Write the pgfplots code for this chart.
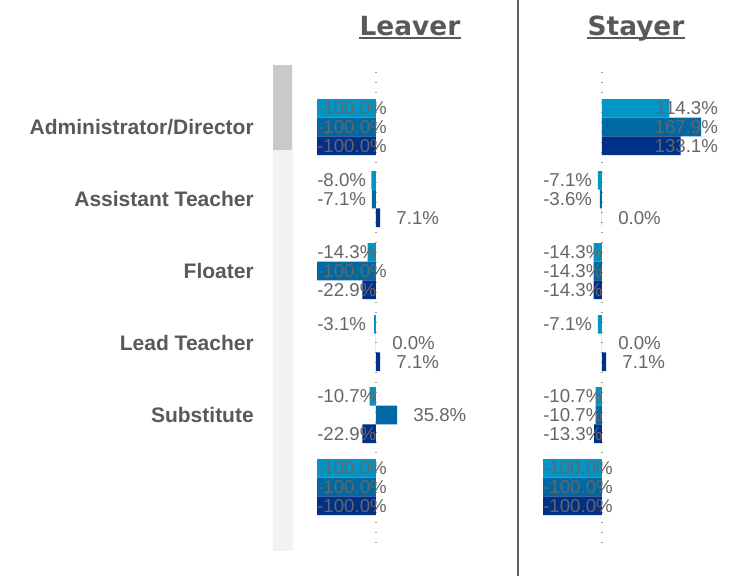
\documentclass[border=0pt]{standalone}
\usepackage{pgfplots}
\pgfplotsset{compat=1.18}
\usepackage{fontspec}
\setmainfont{Liberation Sans}
\newfontfamily\titlefont{DejaVu Sans}

\definecolor{lightb}{HTML}{0096C8}
\definecolor{midb}{HTML}{0068A2}
\definecolor{darkb}{HTML}{003087}
\definecolor{lblgray}{HTML}{666666}
\definecolor{catgray}{HTML}{595959}

\tikzset{
  lab/.style={inner sep=0pt, text=lblgray, font=\fontsize{14}{16}\selectfont,
              text height=10pt, text depth=0pt},
  cat/.style={anchor=base east, inner sep=0pt, text=catgray,
              font=\bfseries\fontsize{15.75}{17}\selectfont},
  ttl/.style={anchor=base, inner sep=0pt, text=catgray,
              font=\titlefont\bfseries\fontsize{19.8}{22}\selectfont},
}
\pgfplotsset{
  panel/.style={
    hide axis, scale only axis, clip=false,
    width=131.4pt, height=364.5pt,
    xmin=-100, xmax=197,
    ymin=-0.8611, ymax=5.8889, y dir=reverse,
    xbar, bar width=14pt,
  },
}
% neg: label from axis min; pos: 12pt right of bar end; clip: right-aligned at xmax
\newcommand\nlab[2]{\node[lab,anchor=west] at (axis cs:-100,#1) {#2};}
\newcommand\plab[3]{\node[lab,anchor=west,xshift=12pt] at (axis cs:#3,#1) {#2};}
\newcommand\clab[2]{\node[lab,anchor=east] at (axis cs:197,#1) {#2};}

\begin{document}
\begin{tikzpicture}[x=0.75pt,y=-0.75pt]
\path[use as bounding box] (0,0) rectangle (742,576);
\coordinate (LV) at (317,65);
\coordinate (ST) at (543,65);

% scrollbar
\fill[black!5] (273,65) rectangle (293,551);
\fill[black!21] (273,65) rectangle (292,150);

% divider
\draw[black!62, line width=1.5pt] (518,0) -- (518,576);

% titles
\node[ttl] (tl) at (410,35.5) {Leaver};
\draw[catgray, line width=1.5pt] ([yshift=-2.2pt]tl.base west) -- ([yshift=-2.2pt]tl.base east);
\node[ttl] (ts) at (636,35.5) {Stayer};
\draw[catgray, line width=1.5pt] ([yshift=-2.2pt]ts.base west) -- ([yshift=-2.2pt]ts.base east);

% categories
\node[cat] at (254,134.5) {Administrator/Director};
\node[cat] at (254,206.5) {Assistant Teacher};
\node[cat] at (254,278.5) {Floater};
\node[cat] at (254,350.5) {Lead Teacher};
\node[cat] at (254,422.5) {Substitute};

% ---------------- Leaver ----------------
\begin{axis}[panel, at={(LV)}, anchor=north west]
\draw[black!38, line width=1pt, dash pattern=on 1pt off 6.5pt]
  (axis cs:0,-0.764) -- (axis cs:0,5.8889);
\addplot[fill=lightb, draw=none, bar shift=14pt] coordinates
  {(-100,0) (-8.0,1) (-14.3,2) (-3.1,3) (-10.7,4) (-100,5)};
\addplot[fill=midb, draw=none, bar shift=0pt] coordinates
  {(-100,0) (-7.1,1) (-100,2) (0.0,3) (35.8,4) (-100,5)};
\addplot[fill=darkb, draw=none, bar shift=-14pt] coordinates
  {(-100,0) (7.1,1) (-22.9,2) (7.1,3) (-22.9,4) (-100,5)};
\nlab{-0.26}{-100.0\%} \nlab{0}{-100.0\%} \nlab{0.26}{-100.0\%}
\nlab{0.74}{-8.0\%} \nlab{1}{-7.1\%} \plab{1.26}{7.1\%}{7.1}
\nlab{1.74}{-14.3\%} \nlab{2}{-100.0\%} \nlab{2.26}{-22.9\%}
\nlab{2.74}{-3.1\%} \plab{3}{0.0\%}{0} \plab{3.26}{7.1\%}{7.1}
\nlab{3.74}{-10.7\%} \plab{4}{35.8\%}{35.8} \nlab{4.26}{-22.9\%}
\nlab{4.74}{-100.0\%} \nlab{5}{-100.0\%} \nlab{5.26}{-100.0\%}
\end{axis}

% ---------------- Stayer ----------------
\begin{axis}[panel, at={(ST)}, anchor=north west]
\draw[black!38, line width=1pt, dash pattern=on 1pt off 6.5pt]
  (axis cs:0,-0.764) -- (axis cs:0,5.8889);
\addplot[fill=lightb, draw=none, bar shift=14pt] coordinates
  {(114.3,0) (-7.1,1) (-14.3,2) (-7.1,3) (-10.7,4) (-100,5)};
\addplot[fill=midb, draw=none, bar shift=0pt] coordinates
  {(167.9,0) (-3.6,1) (-14.3,2) (0.0,3) (-10.7,4) (-100,5)};
\addplot[fill=darkb, draw=none, bar shift=-14pt] coordinates
  {(133.1,0) (0.0,1) (-14.3,2) (7.1,3) (-13.3,4) (-100,5)};
\clab{-0.26}{114.3\%} \clab{0}{167.9\%} \clab{0.26}{133.1\%}
\nlab{0.74}{-7.1\%} \nlab{1}{-3.6\%} \plab{1.26}{0.0\%}{0}
\nlab{1.74}{-14.3\%} \nlab{2}{-14.3\%} \nlab{2.26}{-14.3\%}
\nlab{2.74}{-7.1\%} \plab{3}{0.0\%}{0} \plab{3.26}{7.1\%}{7.1}
\nlab{3.74}{-10.7\%} \nlab{4}{-10.7\%} \nlab{4.26}{-13.3\%}
\nlab{4.74}{-100.0\%} \nlab{5}{-100.0\%} \nlab{5.26}{-100.0\%}
\end{axis}
\end{tikzpicture}
\end{document}
